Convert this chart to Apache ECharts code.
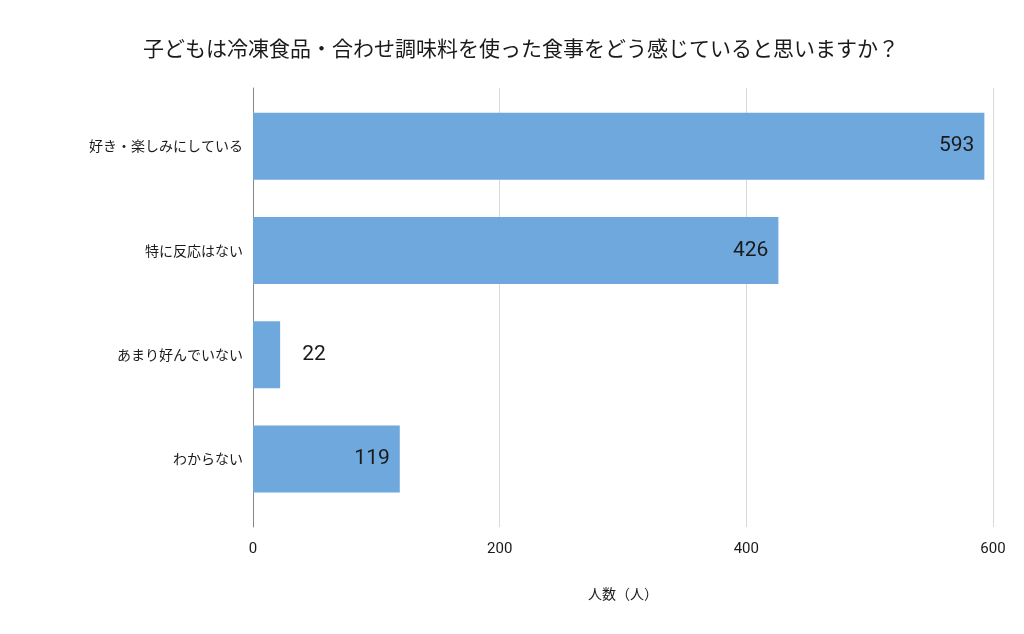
<!DOCTYPE html>
<html>
<head>
<meta charset="utf-8">
<script src="https://cdn.jsdelivr.net/npm/echarts@6/dist/echarts.min.js"></script>
<style>
html, body { margin: 0; padding: 0; background: #fff; }
#chart { width: 1024px; height: 634px; }
</style>
</head>
<body>
<div id="chart"></div>
<script>
const titleText = '子どもは冷凍食品・合わせ調味料を使った食事をどう感じていると思いますか？';
const categories = ['好き・楽しみにしている', '特に反応はない', 'あまり好んでいない', 'わからない'];
const counts = [593, 426, 22, 119];
const xTicks = [0, 200, 400, 600];

const font = '"Noto Sans CJK JP", Roboto, sans-serif';
let myChart = echarts.init(document.getElementById('chart'));

// small bars get their label outside
const barData = counts.map(function (v) {
    if (v < 60) {
        return { value: v, label: { position: 'right', distance: 22 } };
    }
    return v;
});

let option = {
    textStyle: { fontFamily: font },
    title: {
        text: titleText,
        left: 516,
        textAlign: 'center',
        top: 33,
        textStyle: { fontSize: 21, fontWeight: 'normal', color: '#1a1a1a', fontFamily: font }
    },
    grid: [{
        // background grid: split lines and axis line
        left: 253, right: 31, top: 88, bottom: 107
    }, {
        left: 253, right: 31, top: 94, bottom: 123
    }],
    xAxis: [{
        type: 'value',
        gridIndex: 0,
        min: xTicks[0],
        max: xTicks[xTicks.length - 1],
        interval: 200,
        axisLine: { show: false },
        axisTick: { show: false },
        splitLine: { lineStyle: { color: '#d9d9d9' } },
        axisLabel: { fontSize: 15, color: '#1a1a1a', margin: 15, fontFamily: 'Roboto' },
        name: '人数（人）',
        nameLocation: 'middle',
        nameGap: 60,
        nameTextStyle: { fontSize: 14, color: '#1a1a1a', fontFamily: font }
    }, {
        type: 'value',
        gridIndex: 1,
        min: 0,
        max: 600,
        interval: 200,
        show: false
    }],
    yAxis: [{
        type: 'category',
        gridIndex: 0,
        data: [''],
        axisLine: { show: true, lineStyle: { color: '#888' } },
        axisTick: { show: false },
        axisLabel: { show: false }
    }, {
        type: 'category',
        gridIndex: 1,
        inverse: true,
        data: categories,
        axisLine: { show: false },
        axisTick: { show: false },
        axisLabel: { fontSize: 14, color: '#1a1a1a', margin: 10, fontFamily: font }
    }],
    series: [{
        type: 'bar',
        xAxisIndex: 1,
        yAxisIndex: 1,
        data: barData,
        barWidth: 67,
        itemStyle: { color: '#6fa8dc' },
        label: {
            show: true,
            position: 'insideRight',
            distance: 10,
            fontSize: 21,
            color: '#1a1a1a',
            fontFamily: 'Roboto'
        }
    }]
};

option && myChart.setOption(option);
</script>
</body>
</html>
